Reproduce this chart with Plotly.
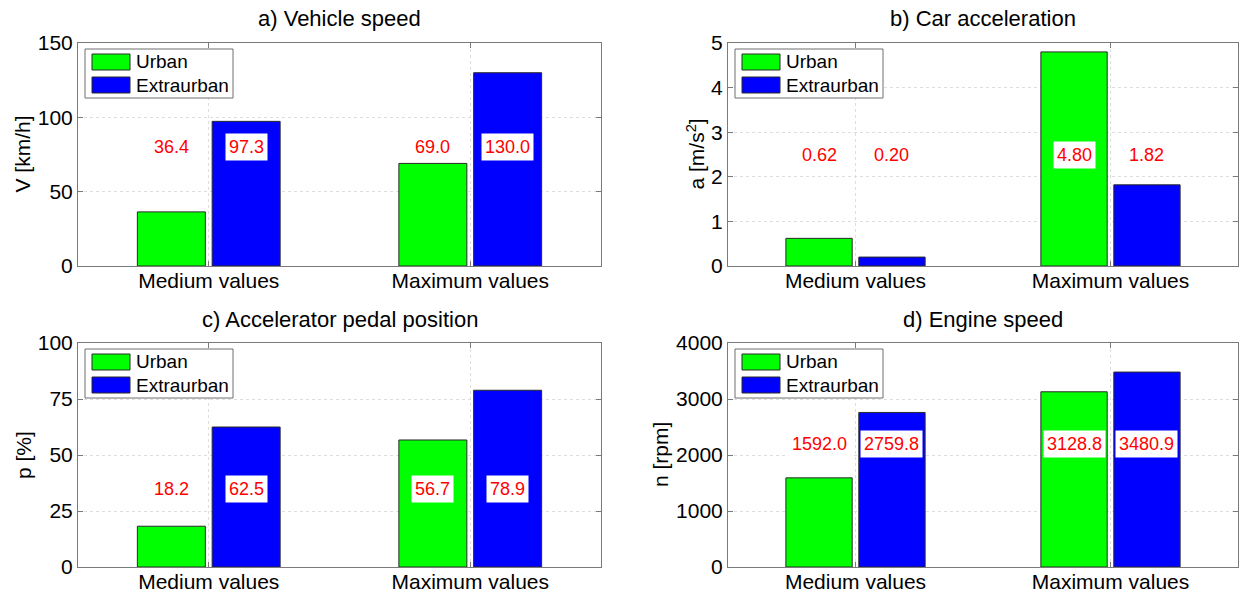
import plotly.graph_objects as go

# ---- data -------------------------------------------------------------
categories = ["Medium values", "Maximum values"]
series_names = ["Urban", "Extraurban"]

speed_urban = [36.4, 69.0]
speed_extra = [97.3, 130.0]
accel_urban = [0.62, 4.80]
accel_extra = [0.20, 1.82]
pedal_urban = [18.2, 56.7]
pedal_extra = [62.5, 78.9]
rpm_urban = [1592.0, 3128.8]
rpm_extra = [2759.8, 3480.9]

titles = ["a) Vehicle speed", "b) Car acceleration",
          "c) Accelerator pedal position", "d) Engine speed"]
ylabels = ["V [km/h]", "a [m/s<sup>2</sup>]", "p [%]", "n [rpm]"]
y_max = [150, 5, 100, 4000]
y_dtick = [50, 1, 25, 1000]
label_level = [80, 2.5, 35, 2200]   # height at which value labels are written
label_fmt = ["{:.1f}", "{:.2f}", "{:.1f}", "{:.1f}"]

# ---- style ------------------------------------------------------------
W, H = 1241, 593
FONT = "Liberation Sans, Arial, Helvetica, sans-serif"
GREEN, BLUE = "#00ff00", "#0000ff"
AXIS_GRAY = "#7a7a7a"
GRID_GRAY = "#dedede"
BAR_W = 0.26
BAR_SHIFT = 0.143

# axes boxes in pixels: (left, right, top, bottom)
boxes = [(78, 601, 43, 266), (728, 1238, 43, 266),
         (78, 601, 343, 567), (728, 1238, 343, 567)]
# horizontal centre of each rotated y-axis label, in pixels
ylabel_x = [22, 695, 23, 660]

panels = [(speed_urban, speed_extra), (accel_urban, accel_extra),
          (pedal_urban, pedal_extra), (rpm_urban, rpm_extra)]


def px_x(x):
    return x / W


def px_y(y):
    return 1 - y / H


fig = go.Figure()
annotations = []
shapes = []
xpos = list(range(len(categories)))

for i, ((urban, extra), box) in enumerate(zip(panels, boxes)):
    n = "" if i == 0 else str(i + 1)
    xa, ya = "x" + n, "y" + n
    l, r, t, b = box

    for vals, name, color, off in ((urban, series_names[0], GREEN, -BAR_SHIFT),
                                   (extra, series_names[1], BLUE, BAR_SHIFT)):
        fig.add_trace(go.Bar(
            x=xpos, y=vals, name=name, xaxis=xa, yaxis=ya,
            width=BAR_W, offset=off - BAR_W / 2,
            marker=dict(color=color, line=dict(color="#2a2a2a", width=1)),
            showlegend=False, hoverinfo="x+y",
        ))
        # value labels
        for k, v in enumerate(vals):
            annotations.append(dict(
                x=xpos[k] + off, y=label_level[i], xref=xa, yref=ya,
                text=label_fmt[i].format(v), showarrow=False,
                font=dict(family=FONT, size=18, color="#ff0000"),
                bgcolor="white", borderpad=3,
                xanchor="center", yanchor="middle",
            ))

    axis_common = dict(
        showline=True, linecolor=AXIS_GRAY, linewidth=1, mirror="allticks",
        ticks="inside", ticklen=5, tickcolor=AXIS_GRAY,
        showgrid=True, gridcolor=GRID_GRAY, griddash="dot", gridwidth=1,
        zeroline=False, automargin=False,
        tickfont=dict(family=FONT, size=21, color="black"),
    )
    fig.update_layout(**{
        ("xaxis" + n): dict(
            axis_common, domain=[px_x(l), px_x(r)], anchor=ya,
            range=[-0.5, len(categories) - 0.5],
            tickvals=xpos, ticktext=categories,
            ticklabelstandoff=-4,
        ),
        ("yaxis" + n): dict(
            axis_common, domain=[px_y(b), px_y(t)], anchor=xa,
            range=[0, y_max[i]], dtick=y_dtick[i],
        ),
    })

    # y-axis label
    annotations.append(dict(
        x=px_x(ylabel_x[i]), y=px_y((t + b) / 2), xref="paper", yref="paper",
        text=ylabels[i], showarrow=False, textangle=-90,
        xanchor="center", yanchor="middle",
        font=dict(family=FONT, size=21, color="black"),
    ))

    # panel title
    annotations.append(dict(
        x=px_x((l + r) / 2), y=px_y(t - 24), xref="paper", yref="paper",
        text=titles[i], showarrow=False, xanchor="center", yanchor="middle",
        font=dict(family=FONT, size=22, color="black"),
    ))

    # legend box in the upper-left corner of each panel
    shapes.append(dict(
        type="rect", xref="paper", yref="paper",
        x0=px_x(l + 7), x1=px_x(l + 155), y0=px_y(t + 55), y1=px_y(t + 6),
        fillcolor="white", line=dict(color="#6e6e6e", width=1), layer="above",
    ))
    for j, (name, color) in enumerate(zip(series_names, (GREEN, BLUE))):
        y_top = t + 11 + 23 * j
        shapes.append(dict(
            type="rect", xref="paper", yref="paper",
            x0=px_x(l + 14), x1=px_x(l + 52),
            y0=px_y(y_top + 16), y1=px_y(y_top),
            fillcolor=color, line=dict(color="#2a2a2a", width=1), layer="above",
        ))
        annotations.append(dict(
            x=px_x(l + 56), y=px_y(y_top + 8), xref="paper", yref="paper",
            text=name, showarrow=False, xanchor="left", yanchor="middle",
            font=dict(family=FONT, size=19, color="black"),
        ))

fig.update_layout(
    width=W, height=H,
    margin=dict(l=0, r=0, t=0, b=0),
    paper_bgcolor="white", plot_bgcolor="white",
    showlegend=False, barmode="overlay",
    annotations=annotations, shapes=shapes,
    font=dict(family=FONT, color="black"),
)

fig.write_html("out.html")
